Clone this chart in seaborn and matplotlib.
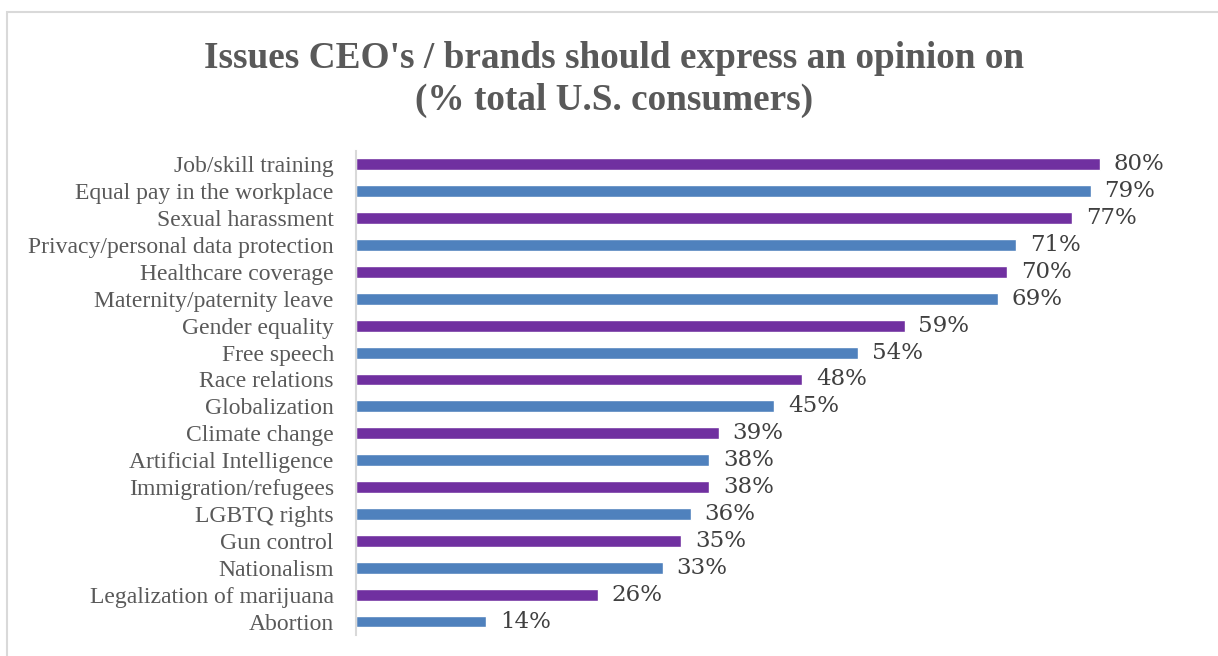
import matplotlib
matplotlib.use("Agg")
import matplotlib.pyplot as plt
import seaborn as sns
import pandas as pd
from matplotlib.patches import Rectangle

# Survey results: share of U.S. consumers who think CEOs/brands should speak up
issues = [
    "Job/skill training",
    "Equal pay in the workplace",
    "Sexual harassment",
    "Privacy/personal data protection",
    "Healthcare coverage",
    "Maternity/paternity leave",
    "Gender equality",
    "Free speech",
    "Race relations",
    "Globalization",
    "Climate change",
    "Artificial Intelligence",
    "Immigration/refugees",
    "LGBTQ rights",
    "Gun control",
    "Nationalism",
    "Legalization of marijuana",
    "Abortion",
]
shares = [80, 79, 77, 71, 70, 69, 59, 54, 48, 45, 39, 38, 38, 36, 35, 33, 26, 14]

PURPLE = "#7030A0"
BLUE = "#4F81BD"
TEXT = "#595959"
GRID = "#D9D9D9"

df = pd.DataFrame({"issue": issues, "share": shares})
palette = {iss: (PURPLE if i % 2 == 0 else BLUE) for i, iss in enumerate(issues)}

sns.set_theme(style="white")
plt.rcParams["font.family"] = ["Liberation Serif", "DejaVu Serif"]

fig = plt.figure(figsize=(12.18, 6.56), dpi=100)
ax = fig.add_axes([0.2923, 0.032, 0.687, 0.738])

sns.barplot(data=df, x="share", y="issue", hue="issue", palette=palette,
            order=issues, hue_order=issues, width=0.44, legend=False,
            saturation=1, ax=ax)

ax.set_xlim(0, 90)
ax.set_ylim(len(issues) - 0.5, -0.5)
ax.set_xlabel("")
ax.set_ylabel("")
ax.set_xticks([])
ax.tick_params(axis="y", length=0, pad=16, labelsize=17, labelcolor=TEXT)
for side in ("top", "right", "bottom"):
    ax.spines[side].set_visible(False)
ax.spines["left"].set_color(GRID)
ax.spines["left"].set_linewidth(1.5)

# Percentage labels at the end of each bar
for container in ax.containers:
    texts = ax.bar_label(container, labels=[f"{v:.0f}%" for v in container.datavalues],
                         padding=10, fontsize=16.5, color="#404040",
                         family=["DejaVu Serif"])
    for t in texts:
        t.set_va("center")

fig.text(0.504, 0.879, "Issues CEO's / brands should express an opinion on\n(% total U.S. consumers)",
         ha="center", va="center", fontsize=26.8, fontweight="bold",
         color=TEXT, linespacing=1.28)

# Chart frame
fig.patches.append(Rectangle((7 / 1218, -0.05), 1.1, 1 - 12 / 656 + 0.05,
                             transform=fig.transFigure, fill=False,
                             edgecolor=GRID, linewidth=1.5))

fig.savefig("out.png", dpi=100)
